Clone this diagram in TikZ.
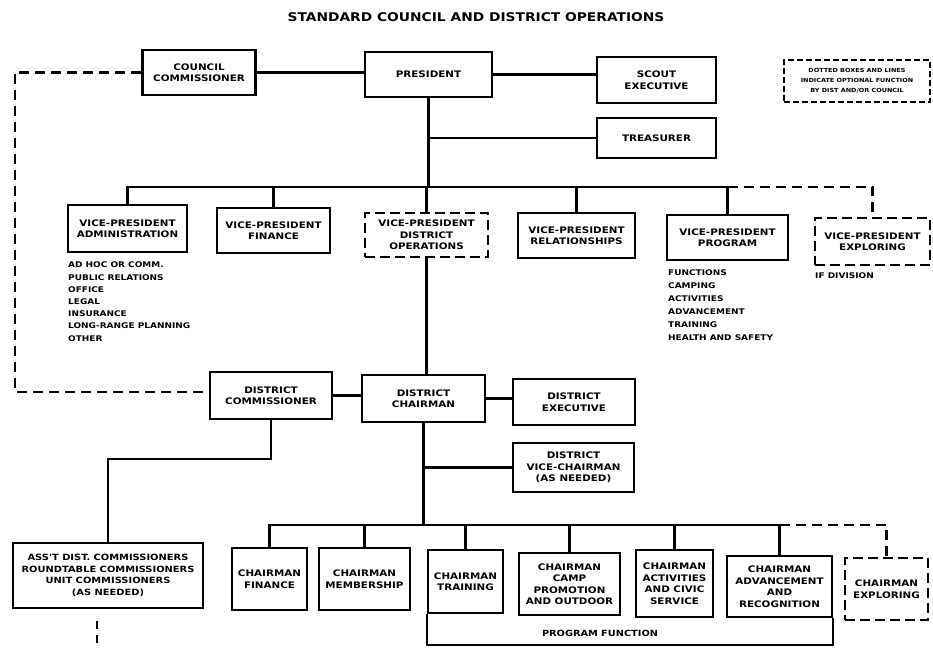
\documentclass[tikz,border=0pt]{standalone}
\usepackage{fontspec}
\newfontfamily\chartfont[FakeStretch=1.15]{DejaVu Sans}
\begin{document}
\begin{tikzpicture}[x=1pt,y=-1pt,
  ln/.style={line width=2.4pt},
  dsh/.style={line width=2.4pt,dash pattern=on 10pt off 6pt},
  bx/.style={draw,line width=2.4pt,align=center,inner sep=1pt,font=\chartfont\bfseries\fontsize{9}{11.5}\selectfont},
  dbx/.style={bx,dash pattern=on 10pt off 5pt},
  lst/.style={anchor=north west,align=left,inner sep=0pt,font=\chartfont\bfseries\fontsize{7.8}{12.2}\selectfont},
  ttl/.style={font=\chartfont\bfseries\fontsize{12}{14}\selectfont}
]
\useasboundingbox (0,0) rectangle (933,654);
\node[ttl] (title) at (476,17) {STANDARD COUNCIL AND DISTRICT OPERATIONS};
% top row
\node[bx,minimum width=113pt,minimum height=45pt] (cc) at (199,72.5) {COUNCIL\\COMMISSIONER};
\node[bx,minimum width=127pt,minimum height=45pt] (pres) at (428.5,74.5) {PRESIDENT};
\node[bx,minimum width=119pt,minimum height=46pt] (scout) at (656.5,80) {SCOUT\\EXECUTIVE};
\node[bx,minimum width=119pt,minimum height=40pt] (treas) at (656.5,138) {TREASURER};
\node[dbx,minimum width=146pt,minimum height=42pt,line width=1.8pt,dash pattern=on 6pt off 3pt,font=\chartfont\bfseries\fontsize{5.6}{10}\selectfont] (legend) at (857,81) {DOTTED BOXES AND LINES\\INDICATE OPTIONAL FUNCTION\\BY DIST AND/OR COUNCIL};
% vice-presidents
\node[bx,minimum width=119pt,minimum height=47pt] (vpa) at (127.5,228.5) {VICE-PRESIDENT\\ADMINISTRATION};
\node[bx,minimum width=113pt,minimum height=45pt] (vpf) at (273.5,230.5) {VICE-PRESIDENT\\FINANCE};
\node[dbx,minimum width=123pt,minimum height=44pt] (vpd) at (426.5,235) {VICE-PRESIDENT\\DISTRICT\\OPERATIONS};
\node[bx,minimum width=117pt,minimum height=45pt] (vpr) at (576.5,235.5) {VICE-PRESIDENT\\RELATIONSHIPS};
\node[bx,minimum width=121pt,minimum height=45pt] (vpp) at (727.5,237.5) {VICE-PRESIDENT\\PROGRAM};
\node[dbx,minimum width=115pt,minimum height=47pt] (vpe) at (872.5,241.5) {VICE-PRESIDENT\\EXPLORING};
\node[lst] (vpalist) at (68,262) {AD HOC OR COMM.\\PUBLIC RELATIONS\\OFFICE\\LEGAL\\INSURANCE\\LONG-RANGE PLANNING\\OTHER};
\node[lst,font=\chartfont\bfseries\fontsize{7.8}{13}\selectfont] (vpplist) at (668,270) {FUNCTIONS\\CAMPING\\ACTIVITIES\\ADVANCEMENT\\TRAINING\\HEALTH AND SAFETY};
\node[lst] (vpelist) at (815,273) {IF DIVISION};
% district
\node[bx,minimum width=122pt,minimum height=47pt] (dc) at (271,395.5) {DISTRICT\\COMMISSIONER};
\node[bx,minimum width=123pt,minimum height=47pt] (dch) at (423.5,398.5) {DISTRICT\\CHAIRMAN};
\node[bx,minimum width=122pt,minimum height=46pt] (dex) at (574,402) {DISTRICT\\EXECUTIVE};
\node[bx,minimum width=121pt,minimum height=49pt] (dvc) at (573.5,467.5) {DISTRICT\\VICE-CHAIRMAN\\(AS NEEDED)};
% bottom row
\node[bx,minimum width=190pt,minimum height=65pt,font=\chartfont\bfseries\fontsize{8.6}{11.5}\selectfont] (asst) at (108,575.5) {ASS'T DIST. COMMISSIONERS\\ROUNDTABLE COMMISSIONERS\\UNIT COMMISSIONERS\\(AS NEEDED)};
\node[bx,minimum width=75pt,minimum height=62pt] (cf) at (269.5,579) {CHAIRMAN\\FINANCE};
\node[bx,minimum width=91pt,minimum height=62pt] (cm) at (364.5,579) {CHAIRMAN\\MEMBERSHIP};
\node[bx,minimum width=75pt,minimum height=63pt] (ct) at (465.5,581.5) {CHAIRMAN\\TRAINING};
\node[bx,minimum width=101pt,minimum height=62pt] (ccamp) at (569.5,584) {CHAIRMAN\\CAMP\\PROMOTION\\AND OUTDOOR};
\node[bx,minimum width=77pt,minimum height=67pt] (cact) at (674.5,583.5) {CHAIRMAN\\ACTIVITIES\\AND CIVIC\\SERVICE};
\node[bx,minimum width=105pt,minimum height=61pt] (cadv) at (779.5,586.5) {CHAIRMAN\\ADVANCEMENT\\AND\\RECOGNITION};
\node[dbx,minimum width=83pt,minimum height=62pt] (cexp) at (886.5,589) {CHAIRMAN\\EXPLORING};
\node[font=\chartfont\bfseries\fontsize{8.5}{10}\selectfont] (pflab) at (600,633) {PROGRAM FUNCTION};
% coordinates
\coordinate (busy) at (0,187);
\coordinate (bus2) at (0,525);
\coordinate (lc) at (15,392);
\coordinate (j2) at (0,459);
\coordinate (pf) at (0,645);
% connectors top
\draw[ln] (cc.east) -- (cc.east -| pres.west);
\draw[ln] (pres.east) -- (pres.east -| scout.west);
\draw[ln] (pres.south) -- (pres.south |- busy);
\draw[ln] (pres.south |- treas.west) -- (treas.west);
\draw[ln] (vpa.north) -- (vpa.north |- busy) -- (vpp.north |- busy);
\draw[ln] (vpf.north) -- (vpf.north |- busy);
\draw[ln] (vpd.north) -- (vpd.north |- busy);
\draw[ln] (vpr.north) -- (vpr.north |- busy);
\draw[ln] (vpp.north) -- (vpp.north |- busy);
\draw[dsh] (vpp.north |- busy) -- (vpe.north |- busy) -- (vpe.north);
% council commissioner dashed loop
\draw[dsh] (cc.west) -| (lc) -- (lc -| dc.west);
% district
\draw[ln] (vpd.south) -- (vpd.south |- dch.north);
\draw[ln] (dc.east) -- (dc.east -| dch.west);
\draw[ln] (dch.east) -- (dch.east -| dex.west);
\draw[ln] (dch.south) -- (dch.south |- bus2);
\draw[ln] (dch.south |- dvc.west) -- (dvc.west);
\draw[ln] (dc.south) -- (dc.south |- j2) -| (asst.north);
\draw[line width=1.8pt,dash pattern=on 8pt off 6pt] ([xshift=-11pt,yshift=-12pt]asst.south) -- ++(0,25);
% bottom bus
\draw[ln] (cf.north) -- (cf.north |- bus2) -- (cadv.north |- bus2);
\draw[ln] (cm.north) -- (cm.north |- bus2);
\draw[ln] (ct.north) -- (ct.north |- bus2);
\draw[ln] (ccamp.north) -- (ccamp.north |- bus2);
\draw[ln] (cact.north) -- (cact.north |- bus2);
\draw[ln] (cadv.north) -- (cadv.north |- bus2);
\draw[dsh] (cadv.north |- bus2) -- (cexp.north |- bus2) -- (cexp.north);
% program function bracket
\draw[ln] (ct.south west) -- (ct.south west |- pf) -| (cadv.south east);
\end{tikzpicture}
\end{document}
